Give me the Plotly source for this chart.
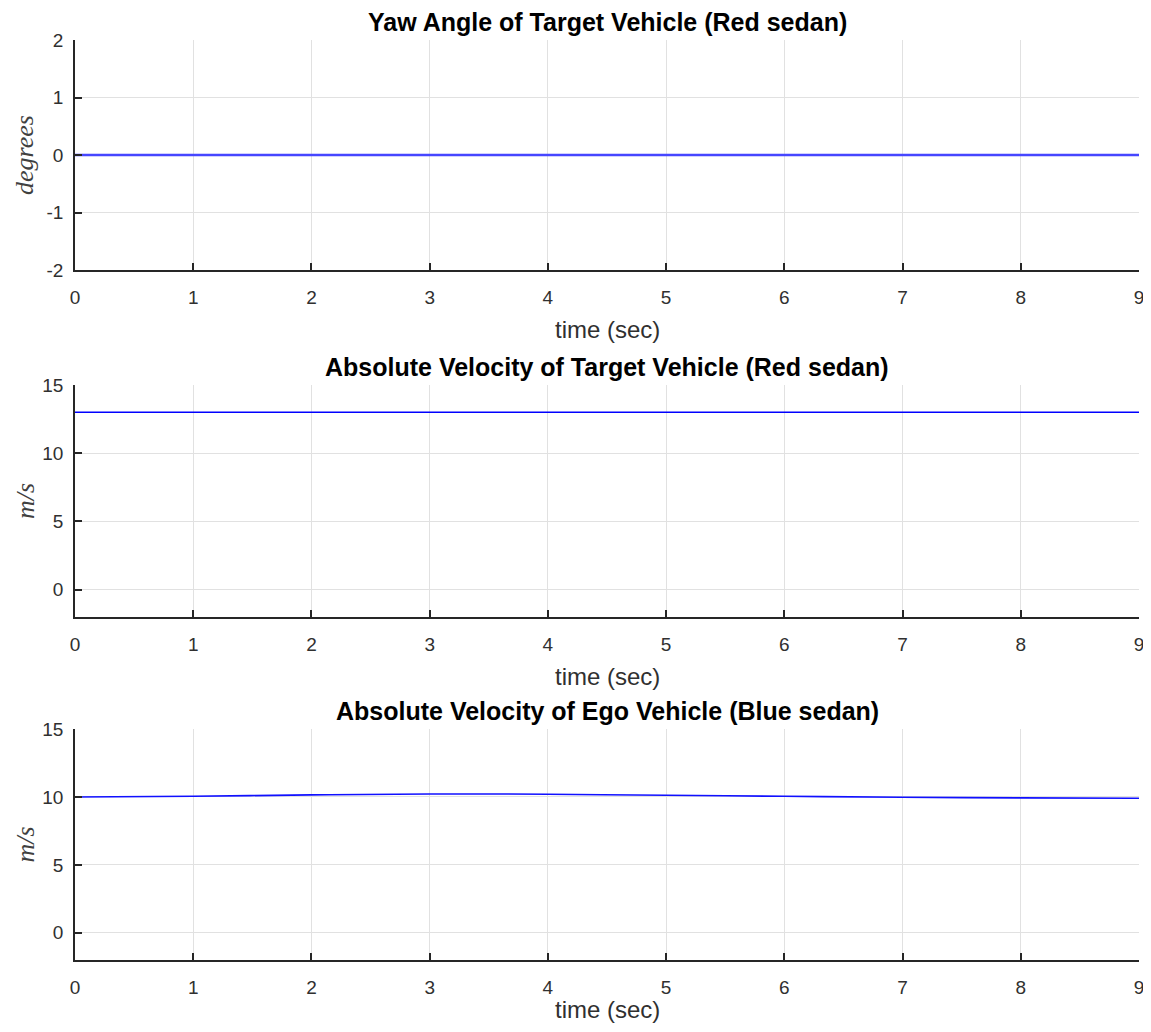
import plotly.graph_objects as go

# Data
time_s = [0, 1, 2, 3, 4, 5, 6, 7, 8, 9]
yaw_target_deg = [0, 0, 0, 0, 0, 0, 0, 0, 0, 0]
vel_target_ms = [13, 13, 13, 13, 13, 13, 13, 13, 13, 13]
vel_ego_ms = [10.0, 10.05, 10.15, 10.22, 10.2, 10.12, 10.05, 9.98, 9.93, 9.9]

titles = ["Yaw Angle of Target Vehicle (Red sedan)",
          "Absolute Velocity of Target Vehicle (Red sedan)",
          "Absolute Velocity of Ego Vehicle (Blue sedan)"]
ylabels = ["degrees", "m/s", "m/s"]
xlabel = "time (sec)"
series = [yaw_target_deg, vel_target_ms, vel_ego_ms]
yranges = [[-2, 2], [-2, 15], [-2, 15]]
ytickvals = [[-2, -1, 0, 1, 2], [0, 5, 10, 15], [0, 5, 10, 15]]
yticktext = [["-2", "-1", "0", "1", "2"], ["0", "5", "10", "15"], ["0", "5", "10", "15"]]
line_widths = [2.6, 1.6, 1.6]
line_colors = ["#4646ff", "#0000ff", "#1010ff"]

# page body has an 8px margin; figure sized so page fits window
OFF = 8
W, H = 1151 - 2 * OFF, 1032 - 2 * OFF
# target pixel boxes in window coords (top, bottom)
boxes = [(40, 270), (385, 617), (729, 960)]
x0px, x1px = 75, 1139

fig = go.Figure()
font = "Liberation Sans, Arial, Helvetica, sans-serif"
annotations = []
for i, (ys, (top, bot)) in enumerate(zip(series, boxes)):
    top -= OFF
    bot -= OFF
    n = "" if i == 0 else str(i + 1)
    fig.add_trace(go.Scatter(x=time_s, y=ys, mode="lines",
                             line=dict(color=line_colors[i], width=line_widths[i], shape="spline"),
                             xaxis="x" + n, yaxis="y" + n, showlegend=False))
    dom_y = [1 - bot / H, 1 - top / H]
    axis_common = dict(showline=True, linecolor="#262626", linewidth=1.5,
                       ticks="inside", ticklen=7, tickcolor="#262626", tickwidth=1.5,
                       showgrid=True, gridcolor="#e1e1e1", gridwidth=1,
                       zeroline=False, tickfont=dict(family=font, size=19, color="#303030"),
                       mirror=False, ticklabeloverflow="allow")
    fig.update_layout(**{
        "xaxis" + n: dict(domain=[(x0px - OFF) / W, (x1px - OFF) / W], range=[0, 9],
                          tickvals=time_s, ticktext=[str(t) for t in time_s],
                          ticklabelstandoff=9, anchor="y" + n, **axis_common),
        "yaxis" + n: dict(domain=dom_y, range=yranges[i], tickvals=ytickvals[i],
                          ticktext=yticktext[i], ticklabelstandoff=6,
                          anchor="x" + n, **axis_common),
    })
    cx = ((x0px + x1px) / 2 - OFF) / W
    annotations.append(dict(text="<b>" + titles[i] + "</b>", x=cx, y=1 - (top - 18) / H,
                            xref="paper", yref="paper", showarrow=False,
                            font=dict(family=font, size=25, color="black"),
                            xanchor="center", yanchor="middle"))
    if i < 2:
        annotations.append(dict(text=xlabel, x=cx, y=1 - (bot + 59) / H,
                                xref="paper", yref="paper", showarrow=False,
                                font=dict(family=font, size=24, color="#303030"),
                                xanchor="center", yanchor="middle"))
    else:
        annotations.append(dict(text=xlabel, x=cx, y=0,
                                xref="paper", yref="paper", showarrow=False,
                                font=dict(family=font, size=24, color="#303030"),
                                xanchor="center", yanchor="bottom", yshift=-1))
    annotations.append(dict(text="<i>" + ylabels[i] + "</i>", x=(25 - OFF) / W,
                            y=1 - ((top + bot) / 2) / H,
                            xref="paper", yref="paper", showarrow=False, textangle=-90,
                            font=dict(family="Liberation Serif, Times New Roman, serif", size=26, color="#404040"),
                            xanchor="center", yanchor="middle"))

fig.update_layout(width=W, height=H, margin=dict(l=0, r=0, t=0, b=0, autoexpand=False),
                  paper_bgcolor="white", plot_bgcolor="white",
                  annotations=annotations)
fig.write_html("out.html")
